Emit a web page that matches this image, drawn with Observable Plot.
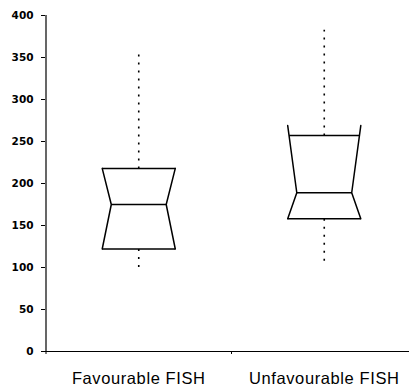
<!DOCTYPE html>
<html>
<head>
<meta charset="utf-8">
<script src="https://cdn.jsdelivr.net/npm/d3@7"></script>
<script src="https://cdn.jsdelivr.net/npm/@observablehq/plot@0.6"></script>
<style>
  html, body { margin: 0; padding: 0; background: #fff; }
  #chart svg { display: block; }
</style>
</head>
<body>
<div id="chart"></div>
<script>
// Notched box plot summaries per group
const categories  = ["Favourable FISH", "Unfavourable FISH"];
const whiskerLow  = [99, 104];
const q1          = [122, 158];
const median      = [175, 189];
const q3          = [218, 257];
const whiskerHigh = [355, 383];
const notchLow    = [122, 158];
const notchHigh   = [218, 269];
const yTicks      = [0, 50, 100, 150, 200, 250, 300, 350, 400];

// Box geometry in band units (each group occupies one unit on x)
const halfWidth = 0.197;
const inset = 0.049;

const groups = categories.map((name, i) => ({
  name, i, cx: i + 0.5,
  lo: whiskerLow[i], q1: q1[i], med: median[i], q3: q3[i], hi: whiskerHigh[i],
  nLo: notchLow[i], nHi: notchHigh[i]
}));

// x of the notched side at value y (side = -1 left, +1 right)
function sideX(g, y, side) {
  let t;
  if (y >= g.med) t = g.nHi === g.med ? 1 : (y - g.med) / (g.nHi - g.med);
  else t = g.nLo === g.med ? 1 : (g.med - y) / (g.med - g.nLo);
  t = Math.max(0, Math.min(1, t));
  return g.cx + side * (halfWidth - inset + inset * t);
}

// Side outlines: from upper notch limit, in to the median, out to the lower limit
const sides = groups.flatMap(g => [-1, 1].flatMap(s => [
  {key: g.name + s, x: g.cx + s * halfWidth, y: g.nHi},
  {key: g.name + s, x: g.cx + s * (halfWidth - inset), y: g.med},
  {key: g.name + s, x: g.cx + s * halfWidth, y: g.nLo}
]));

// Horizontal edges: Q3, median, Q1
const edges = groups.flatMap(g => [g.q3, g.med, g.q1].map(v => ({
  x1: sideX(g, v, -1), x2: sideX(g, v, 1), y: v
})));

// Whiskers: Q3 up to the high value, Q1 down to the low value
const whiskers = groups.flatMap(g => [
  {x: g.cx, y1: g.q3, y2: g.hi},
  {x: g.cx, y1: g.q1, y2: g.lo}
]);

const W = 409, H = 392;

const plot = Plot.plot({
  width: W,
  height: H,
  marginTop: 15,
  marginBottom: 41,
  marginLeft: 45,
  marginRight: 0,
  style: {background: "#fff", color: "#000", overflow: "visible"},
  x: {domain: [0, categories.length], range: [45.5, 416.5]},
  y: {domain: [0, 400]},
  marks: [
    Plot.axisY({
      ticks: yTicks, tickSize: 4, tickPadding: 8, label: null,
      fontFamily: "DejaVu Sans", fontWeight: "bold", fontSize: 10.5,
      stroke: "#000", fill: "#000"
    }),
    Plot.axisX({
      ticks: d3.range(categories.length + 1), tickSize: 3,
      tickFormat: () => "", label: null, stroke: "#000"
    }),
    Plot.ruleX([0], {stroke: "#000", strokeWidth: 1.2}),
    Plot.ruleY([0], {stroke: "#000", strokeWidth: 1.2}),
    Plot.link(whiskers, {
      x1: "x", x2: "x", y1: "y1", y2: "y2",
      stroke: "#000", strokeWidth: 1.6, strokeDasharray: "2,6", strokeLinecap: "butt"
    }),
    Plot.line(sides, {x: "x", y: "y", z: "key", stroke: "#000", strokeWidth: 1.5, curve: "linear"}),
    Plot.link(edges, {x1: "x1", x2: "x2", y1: "y", y2: "y", stroke: "#000", strokeWidth: 1.5}),
    Plot.text(groups, {
      x: "cx", text: "name", frameAnchor: "bottom", dy: 32, lineAnchor: "bottom",
      fontFamily: "Liberation Sans, Arial, sans-serif", fontSize: 16.5, fill: "#000"
    })
  ]
});

plot.querySelectorAll("text").forEach(t => {
  if (t.closest('[aria-label="text"]')) t.setAttribute("letter-spacing", "0.6");
});

document.getElementById("chart").appendChild(plot);
</script>
</body>
</html>
